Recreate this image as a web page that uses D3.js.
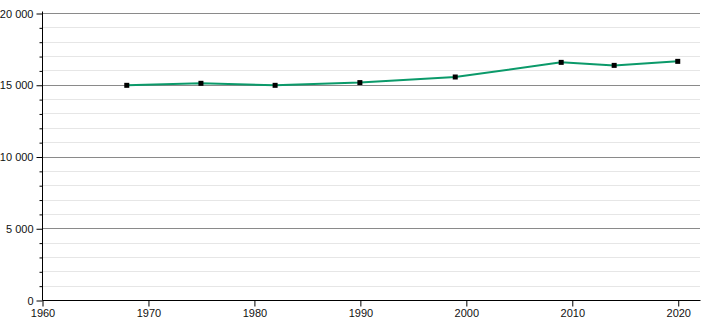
<!DOCTYPE html>
<html>
<head>
    <script type="text/javascript" src="https://d3js.org/d3.v7.min.js"></script>
    <style>
        body { margin: 0; background: #fff; }
        text { font-family: "Liberation Sans", Arial, sans-serif; font-size: 11px; fill: #111; }
    </style>
</head>
<body>
    <script>
        // census years and population
        var years = [1968, 1975, 1982, 1990, 1999, 2009, 2014, 2020];
        var population = [14960, 15100, 14960, 15150, 15540, 16560, 16350, 16630];

        var xTicks = [1960, 1970, 1980, 1990, 2000, 2010, 2020];
        var yMajor = [0, 5000, 10000, 15000, 20000];
        var yMinor = d3.range(0, 20001, 1000);

        var width = 710, height = 320;
        var plotLeft = 42, plotRight = 700, plotTop = 13, plotBottom = 300;

        var x = d3.scaleLinear().domain([1960, 2022.1]).range([plotLeft, plotRight]);
        var y = d3.scaleLinear().domain([0, 20000]).range([plotBottom, plotTop]);

        var fmt = d3.formatLocale({ decimal: ",", thousands: "\u00a0", grouping: [3], currency: ["", ""] }).format(",d");

        var svg = d3.select('body').append('svg').attr('width', width).attr('height', height);

        // light minor grid
        svg.selectAll('line.minor')
            .data(yMinor.filter(function(d) { return d % 5000 != 0; }))
            .enter().append('line')
            .attr('x1', plotLeft).attr('x2', plotRight)
            .attr('y1', function(d) { return Math.round(y(d)) + 0.5; })
            .attr('y2', function(d) { return Math.round(y(d)) + 0.5; })
            .attr('stroke', '#e6e6e6').attr('stroke-width', 1);

        // major grid
        svg.selectAll('line.major')
            .data(yMajor.filter(function(d) { return d > 0; }))
            .enter().append('line')
            .attr('x1', plotLeft).attr('x2', plotRight)
            .attr('y1', function(d) { return Math.round(y(d)) + 0.5; })
            .attr('y2', function(d) { return Math.round(y(d)) + 0.5; })
            .attr('stroke', '#8a8a8a').attr('stroke-width', 1);

        // y axis minor ticks
        var yMinorAxis = d3.axisLeft(y).tickValues(yMinor.filter(function(d) { return d % 5000 != 0; }))
            .tickSize(3).tickFormat('');
        svg.append('g').attr('transform', 'translate(' + (plotLeft + 0.5) + ',0.5)').call(yMinorAxis)
            .call(function(g) { g.select('.domain').remove(); });

        // y axis
        var yAxis = d3.axisLeft(y).tickValues(yMajor).tickSize(6).tickPadding(3).tickFormat(fmt);
        var gy = svg.append('g').attr('transform', 'translate(' + (plotLeft + 0.5) + ',0.5)').call(yAxis);
        gy.select('.domain').attr('d', 'M0,' + (plotTop - 2) + 'V' + plotBottom);

        // x axis
        var xAxis = d3.axisBottom(x).tickValues(xTicks).tickSize(6).tickPadding(3).tickFormat(d3.format('d'));
        var gx = svg.append('g').attr('transform', 'translate(0.5,' + (plotBottom + 0.5) + ')').call(xAxis);
        gx.select('.domain').attr('d', 'M' + plotLeft + ',0H' + plotRight);

        // population line
        var line = d3.line()
            .x(function(d, i) { return x(years[i]); })
            .y(function(d) { return y(d); });

        svg.append('path').datum(population)
            .attr('d', line)
            .attr('fill', 'none')
            .attr('stroke', '#0b9a6a')
            .attr('stroke-width', 2);

        svg.selectAll('rect.pt')
            .data(population)
            .enter().append('rect')
            .attr('x', function(d, i) { return x(years[i]) - 2.5; })
            .attr('y', function(d) { return y(d) - 2.5; })
            .attr('width', 5).attr('height', 5)
            .attr('fill', '#000');
    </script>
</body>
</html>
